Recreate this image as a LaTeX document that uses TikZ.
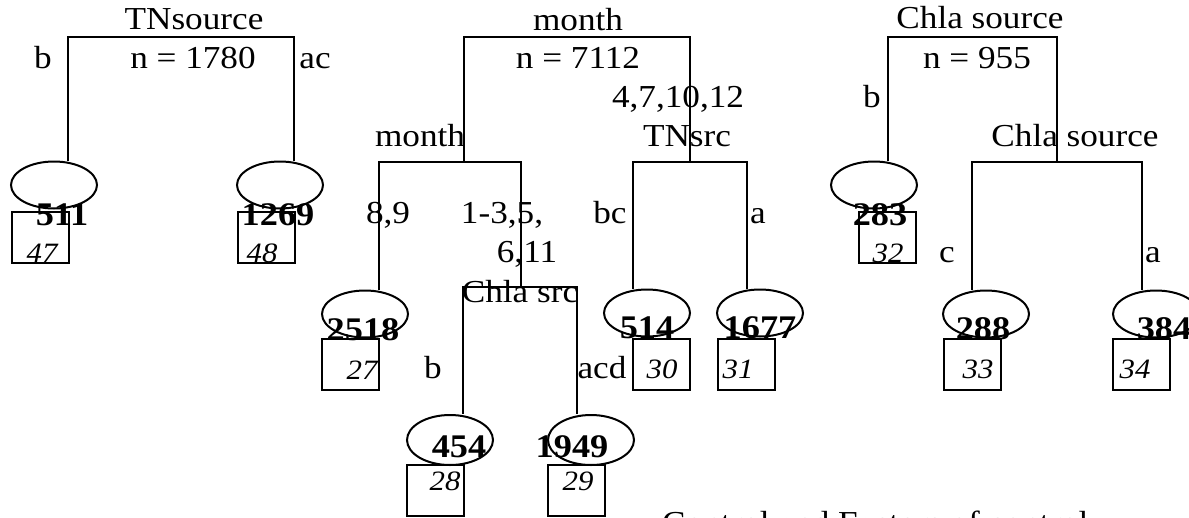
\documentclass[tikz,border=0pt]{standalone}
\usepackage{fontspec}
\setmainfont{Liberation Serif}[FakeStretch=1.1]
\usetikzlibrary{shapes.geometric}
\tikzset{
  lbl/.style={font=\fontsize{32}{34}\selectfont, inner sep=0pt, anchor=base},
  num/.style={font=\bfseries\fontsize{33}{35}\selectfont, inner sep=0pt, anchor=base},
  cnt/.style={font=\itshape\fontsize{28}{30}\selectfont, inner sep=0pt, anchor=base},
  leaf/.style={draw, ellipse, minimum width=86pt, minimum height=47pt, inner sep=0pt, line width=2pt},
  cbox/.style={draw, rectangle, minimum width=57pt, minimum height=51pt, inner sep=0pt, line width=2pt},
  branch/.style={line width=2pt}
}
\begin{document}
\begin{tikzpicture}[x=1pt, y=-1pt]
\useasboundingbox (0,0) rectangle (1189,517);
\fill[white] (0,0) rectangle (1189,517);
\clip (0,0) rectangle (1189,517);

% ---------- tree 1: TNsource ----------
\node[leaf] (e511) at (54,185) {};
\node[leaf] (e1269) at (280,185) {};
\node[cbox] (b47) at (40.5,237.5) {};
\node[cbox] (b48) at (266,237.5) {};
\coordinate (t1L) at (68,37);
\coordinate (t1R) at (294,37);
\draw[branch] (t1L |- e511.north) -- (t1L) -- (t1R) -- (t1R |- e1269.north);
\node[lbl] (s1) at (194,29) {TNsource};
\node[lbl] (n1) at (193,68) {n = 1780};
\node[lbl] (l1b) at (43,68) {b};
\node[lbl] (l1ac) at (315,68) {ac};
\node[num] (v511) at (62,225) {511};
\node[num] (v1269) at (278,225) {1269};
\node[cnt] (c47) at (42,262) {47};
\node[cnt] (c48) at (262,262) {48};

% ---------- tree 2: month ----------
\node[leaf] (e2518) at (365,314) {};
\node[leaf] (e514) at (647,313) {};
\node[leaf] (e1677) at (760,313) {};
\node[leaf, minimum height=50pt] (e454) at (450,440) {};
\node[leaf, minimum height=50pt] (e1949) at (591,440) {};
\node[cbox] (b27) at (350.5,364.5) {};
\node[cbox] (b30) at (661.5,364.5) {};
\node[cbox] (b31) at (746,364.5) {};
\node[cbox] (b28) at (435.5,490.5) {};
\node[cbox] (b29) at (576.5,490.5) {};
\coordinate (t2L) at (464,37);
\coordinate (t2R) at (690,37);
\coordinate (m2L) at (379,162);
\coordinate (m2R) at (521,162);
\coordinate (c2L) at (463,287);
\coordinate (c2R) at (577,287);
\coordinate (r2L) at (633,162);
\coordinate (r2R) at (747,162);
\draw[branch] (t2L |- m2L) -- (t2L) -- (t2R) -- (t2R |- r2L);
\draw[branch] (m2L |- e2518.north) -- (m2L) -- (m2R) -- (m2R |- c2R);
\draw[branch] (c2L |- e454.north) -- (c2L) -- (c2R) -- (c2R |- e1949.north);
\draw[branch] (r2L |- e514.north) -- (r2L) -- (r2R) -- (r2R |- e1677.north);
\node[lbl] (s2) at (578,30) {month};
\node[lbl] (n2) at (578,68) {n = 7112};
\node[lbl] (l2r) at (678,107) {4,7,10,12};
\node[lbl] (s2a) at (420,146) {month};
\node[lbl] (s2b) at (687,146) {TNsrc};
\node[lbl] (l89) at (388,223) {8,9};
\node[lbl] (l135) at (502,223) {1-3,5,};
\node[lbl] (l611) at (527,262) {6,11};
\node[lbl] (lbc) at (610,223) {bc};
\node[lbl] (la2) at (758,223) {a};
\node[lbl] (s2c) at (520,302) {Chla src};
\node[lbl] (lb2) at (433,378) {b};
\node[lbl] (lacd) at (602,378) {acd};
\node[num] (v2518) at (363,340) {2518};
\node[num] (v514) at (647,338) {514};
\node[num] (v1677) at (760,338) {1677};
\node[num] (v454) at (459,457) {454};
\node[num] (v1949) at (572,457) {1949};
\node[cnt] (c27) at (362,379) {27};
\node[cnt] (c30) at (662,378) {30};
\node[cnt] (c31) at (738,378) {31};
\node[cnt] (c28) at (445,490) {28};
\node[cnt] (c29) at (578,490) {29};

% ---------- tree 3: Chla source ----------
\node[leaf] (e283) at (874,185) {};
\node[leaf] (e288) at (986,314) {};
\node[leaf] (e384) at (1156,314) {};
\node[cbox] (b32) at (887.5,237.5) {};
\node[cbox] (b33) at (972.5,364.5) {};
\node[cbox] (b34) at (1141.5,364.5) {};
\coordinate (t3L) at (888,37);
\coordinate (t3R) at (1057,37);
\coordinate (r3L) at (972,162);
\coordinate (r3R) at (1142,162);
\draw[branch] (t3L |- e283.north) -- (t3L) -- (t3R) -- (t3R |- r3L);
\draw[branch] (r3L |- e288.north) -- (r3L) -- (r3R) -- (r3R |- e384.north);
\node[lbl] (s3) at (980,28) {Chla source};
\node[lbl] (n3) at (977,68) {n = 955};
\node[lbl] (lb3) at (872,107) {b};
\node[lbl] (s3a) at (1075,146) {Chla source};
\node[lbl] (lc3) at (947,262) {c};
\node[lbl] (la3) at (1153,262) {a};
\node[num] (v283) at (880,225) {283};
\node[num] (v288) at (983,339) {288};
\node[num] (v384) at (1164,339) {384};
\node[cnt] (c32) at (888,262) {32};
\node[cnt] (c33) at (978,378) {33};
\node[cnt] (c34) at (1135,378) {34};

% ---------- caption line, partly below the frame ----------
\node[lbl, anchor=base west] (cap) at (662,533) {Control and Factors of control};
\end{tikzpicture}
\end{document}
